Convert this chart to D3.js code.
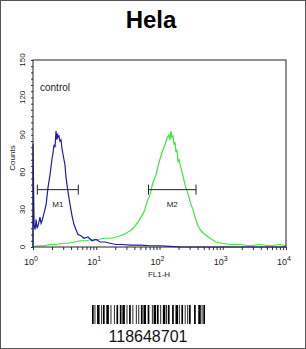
<!DOCTYPE html>
<html>
<head>
<meta charset="utf-8">
<script src="https://cdnjs.cloudflare.com/ajax/libs/d3/7.8.5/d3.min.js"></script>
<style>
  body { margin: 0; background: #fff; }
  svg { display: block; font-family: "Liberation Sans", Arial, sans-serif; }
</style>
</head>
<body>
<svg width="306" height="349"></svg>
<script>
// control histogram (blue), FL1-H value vs counts
var controlFL = [1.0, 1.0, 1.04, 1.08, 1.12, 1.16, 1.20, 1.29, 1.34, 1.39, 1.49, 1.61, 1.73, 1.86, 2.00, 2.08, 2.15, 2.23, 2.31, 2.39,
                 2.45, 2.49, 2.58, 2.67, 2.77, 2.87, 3.09, 3.20, 3.32, 3.58, 3.85, 4.14, 4.45, 4.78, 5.14, 5.74, 6.40, 7.41,
                 8.57, 9.91, 11.5, 13.7, 16.5, 20.5, 25.5, 34.2, 49.2, 70.8, 102, 147, 211, 10000];
var controlCounts = [0, 83, 18, 14, 22, 15, 17, 24, 19, 21, 27, 34, 48, 58, 71, 76, 82, 80, 93, 86,
                     91, 88, 89, 85, 86, 79, 70, 66, 56, 44, 34, 25, 18, 14, 10, 9, 7, 8,
                     5, 6, 4, 4, 3, 2, 2, 1.5, 1.5, 1, 1, 0.5, 0, 0];

// sample histogram (green)
var sampleFL = [1.0, 1.20, 1.49, 1.86, 2.31, 2.87, 3.58, 4.45, 5.54, 6.89, 8.57, 10.7, 13.3, 16.5, 20.5,
                23.8, 27.5, 31.8, 36.8, 41.0, 45.7, 51.0, 56.9, 63.5, 70.8, 78.9, 88.1, 98.2, 110,
                122, 131, 141, 146, 152, 157, 163, 170, 176, 182, 189, 196, 203, 219, 235, 253, 272, 293, 315, 339, 364,
                406, 453, 524, 629, 782, 973, 1300, 1870, 2700, 3880, 5580, 8040, 10000];
var sampleCounts = [0, 1, 1, 2, 2, 3, 3, 4, 5, 5, 6, 6, 7, 7, 8,
                    9, 10, 12, 14, 17, 20, 24, 28, 36, 42, 52, 58, 68, 76,
                    82, 87, 90, 86, 93, 88, 89, 82, 84, 76, 78, 68, 70, 63, 57, 50, 45, 40, 34, 30, 24,
                    17, 13, 10, 7, 4, 3, 2, 2, 1, 2, 1, 2, 1];

// markers
var markerNames = ["M1", "M2"];
var markerFrom = [1.17, 67];
var markerTo = [5.2, 378];
var markerLevel = [46, 46];

var yMajor = [0, 30, 60, 90, 120, 150];
var xDecades = [1, 10, 100, 1000, 10000];

// barcode module widths (bar, space, bar, ...)
var barcodeWidths = [2,1,1,2,3,2, 1,1,2,2,3,2, 1,3,1,2,2,2, 2,1,3,2,1,2, 2,2,1,3,1,2, 1,2,2,1,3,2,
                     2,3,1,1,3,1, 2,2,1,2,3,1, 1,1,2,3,2,2, 3,1,1,2,2,2, 1,2,1,1,2,4, 2,3,3,1,1,1,2];
var barcodeText = "118648701";

var svg = d3.select("svg");

svg.append("rect")
    .attr("x", 0.5).attr("y", 0.5)
    .attr("width", 305).attr("height", 348)
    .attr("fill", "none").attr("stroke", "#555");

svg.append("text")
    .attr("x", 151).attr("y", 28)
    .attr("text-anchor", "middle")
    .attr("font-size", 24).attr("font-weight", "bold")
    .text("Hela");

var plotL = 33, plotR = 286, plotT = 60, plotB = 247;

var x = d3.scaleLog().domain([1, 10000]).range([plotL, plotR]);
var y = d3.scaleLinear().domain([0, 150]).range([plotB, plotT]);

// minor log ticks
var xMinor = [];
xDecades.slice(0, 4).forEach(function(d) {
    for (var k = 1; k < 10; k++) xMinor.push(d * k);
});
xMinor.push(10000);

svg.append("g")
    .attr("transform", "translate(0," + plotB + ")")
    .call(d3.axisBottom(x).tickValues(xMinor).tickSize(3).tickFormat(""))
    .call(function(g) {
        g.select(".domain").remove();
        g.selectAll("line").attr("stroke", "#333");
    });

svg.append("g")
    .attr("transform", "translate(" + plotL + ",0)")
    .call(d3.axisLeft(y).tickValues(d3.range(0, 151, 5)).tickSize(2).tickFormat(""))
    .call(function(g) {
        g.select(".domain").remove();
        g.selectAll("line").attr("stroke", "#333");
    });

// curves
var line = d3.line()
    .x(function(d) { return x(d[0]); })
    .y(function(d) { return y(d[1]); });

svg.append("path")
    .attr("d", line(d3.zip(sampleFL, sampleCounts)))
    .attr("fill", "none")
    .attr("stroke", "#3ae83a")
    .attr("stroke-width", 1.2);

svg.append("path")
    .attr("d", line(d3.zip(controlFL, controlCounts)))
    .attr("fill", "none")
    .attr("stroke", "#1c1cb4")
    .attr("stroke-width", 1.2);

// plot frame
svg.append("rect")
    .attr("x", plotL).attr("y", plotT)
    .attr("width", plotR - plotL).attr("height", plotB - plotT)
    .attr("fill", "none").attr("stroke", "#222").attr("stroke-width", 1);

// y labels
svg.selectAll(".ylab")
    .data(yMajor)
    .enter().append("text")
    .attr("class", "ylab")
    .attr("transform", function(d) { return "translate(25," + y(d) + ") rotate(-90)"; })
    .attr("text-anchor", "middle")
    .attr("font-size", 8).attr("fill", "#222")
    .text(function(d) { return d; });

svg.append("text")
    .attr("transform", "translate(15,158) rotate(-90)")
    .attr("text-anchor", "middle")
    .attr("font-size", 8).attr("fill", "#222")
    .text("Counts");

// x labels with superscripts
var xl = svg.selectAll(".xlab")
    .data(xDecades)
    .enter().append("text")
    .attr("class", "xlab")
    .attr("x", function(d) { return x(d) - 2; })
    .attr("y", 265)
    .attr("text-anchor", "middle")
    .attr("font-size", 9).attr("fill", "#222");
xl.append("tspan").text("10");
xl.append("tspan")
    .attr("dy", -4).attr("font-size", 7)
    .text(function(d) { return Math.round(Math.log10(d)); });

svg.append("text")
    .attr("x", 159).attr("y", 277)
    .attr("text-anchor", "middle")
    .attr("font-size", 8).attr("fill", "#222")
    .text("FL1-H");

svg.append("text")
    .attr("x", 40).attr("y", 91)
    .attr("font-size", 10).attr("fill", "#222")
    .text("control");

// markers
markerNames.forEach(function(name, i) {
    var g = svg.append("g").attr("stroke", "#222").attr("stroke-width", 1);
    var x0 = x(markerFrom[i]), x1 = x(markerTo[i]), yy = y(markerLevel[i]);
    g.append("line").attr("x1", x0).attr("x2", x1).attr("y1", yy).attr("y2", yy);
    g.append("line").attr("x1", x0).attr("x2", x0).attr("y1", yy - 5).attr("y2", yy + 5);
    g.append("line").attr("x1", x1).attr("x2", x1).attr("y1", yy - 5).attr("y2", yy + 5);
    svg.append("text")
        .attr("x", (x0 + x1) / 2).attr("y", yy + 17)
        .attr("text-anchor", "middle")
        .attr("font-size", 8).attr("fill", "#222")
        .text(name);
});

// barcode
var total = d3.sum(barcodeWidths);
var bx = d3.scaleLinear().domain([0, total]).range([92, 205]);
var pos = 0, bars = [];
barcodeWidths.forEach(function(w, i) {
    if (i % 2 === 0) bars.push({start: pos, w: w});
    pos += w;
});
svg.selectAll(".bar")
    .data(bars)
    .enter().append("rect")
    .attr("class", "bar")
    .attr("x", function(d) { return bx(d.start); })
    .attr("width", function(d) { return bx(d.start + d.w) - bx(d.start); })
    .attr("y", 305).attr("height", 19)
    .attr("fill", "#000");

svg.append("text")
    .attr("x", 148).attr("y", 342)
    .attr("text-anchor", "middle")
    .attr("font-size", 16).attr("fill", "#111")
    .text(barcodeText);
</script>
</body>
</html>
